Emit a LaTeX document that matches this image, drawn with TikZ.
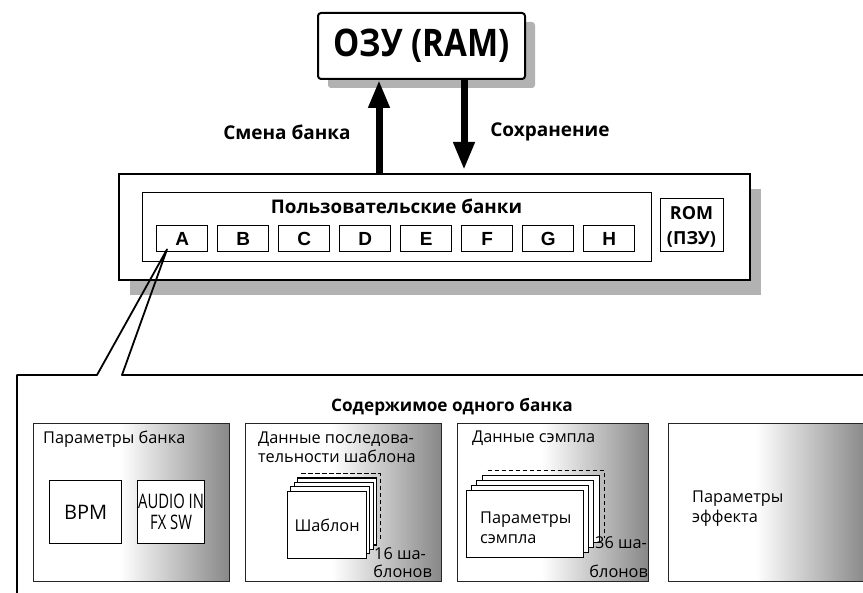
\documentclass[tikz,border=0pt]{standalone}
\usepackage{fontspec}
\setmainfont{Open Sans}
\newfontfamily\lettersfont{Liberation Sans}
\usetikzlibrary{arrows.meta,shadows}
\definecolor{shadowgray}{gray}{0.70}
\pgfdeclarehorizontalshading{boxshade}{100bp}{color(0bp)=(white); color(25bp)=(white); color(47bp)=(white); color(75bp)=(black!47); color(100bp)=(black!47)}
\tikzset{
  boxframe/.style={draw=black, line width=2pt, fill=white, inner sep=0pt},
  bankbox/.style={draw=black, line width=1.4pt, fill=white, inner sep=0pt, minimum width=51pt, minimum height=26pt, font=\lettersfont\bfseries\fontsize{19}{19}\selectfont},
  subbox/.style={draw=black!85, line width=1.2pt, shading=boxshade, inner sep=0pt, anchor=north west, minimum height=158pt},
  innerbox/.style={draw=black, line width=1.2pt, fill=white, inner sep=0pt, anchor=north west},
  page/.style={draw=black, line width=1.2pt, fill=white},
  pagedash/.style={draw=black, line width=1.3pt, dash pattern=on 4.5pt off 2.5pt},
  bigarrow/.style={line width=7pt, -{Triangle[width=20pt,length=28pt]}},
  callout/.style={draw=black, line width=1.8pt, line join=round},
  boldlbl/.style={font=\bfseries\fontsize{19}{19}\selectfont, inner sep=0pt},
  txt/.style={font=\fontsize{16.3}{16.3}\selectfont, inner sep=0pt, anchor=base west},
}
\begin{document}
\begin{tikzpicture}[x=1pt,y=-1pt]
\useasboundingbox (0,0) rectangle (863,593);
% RAM
\node[boxframe, rounded corners=3pt, minimum width=207pt, minimum height=66pt, anchor=north west,
  drop shadow={shadow xshift=10pt, shadow yshift=-9pt, fill=shadowgray, opacity=1},
  font=\bfseries\fontsize{38}{38}\selectfont] (ram) at (317,12) {\scalebox{0.87}[1]{ОЗУ (RAM)}};
% main bank memory
\node[boxframe, minimum width=631pt, minimum height=106pt, anchor=north west,
  drop shadow={shadow xshift=11pt, shadow yshift=-15pt, fill=shadowgray, opacity=1}] (main) at (118,173) {};
\node[innerbox, minimum width=509pt, minimum height=69pt] (user) at (142,192) {};
\node[boldlbl, font=\bfseries\fontsize{18.8}{18.8}\selectfont, anchor=base] (usertitle) at (396.5,214) {Пользовательские банки};
\foreach \l [count=\i from 0] in {A,B,C,D,E,F,G,H}
  \node[bankbox, anchor=north west] (\l) at (156+61*\i,225) {\l};
\node[innerbox, minimum width=63pt, minimum height=53pt] (rom) at (660,198) {};
\node[boldlbl, font=\bfseries\fontsize{18}{18}\selectfont, anchor=base] (romA) at (691.5,220) {ROM};
\node[boldlbl, font=\bfseries\fontsize{18}{18}\selectfont, anchor=base] (romB) at (691.5,245) {(ПЗУ)};
% arrows
\coordinate (upx) at (379,0);
\coordinate (dnx) at (464,0);
\draw[bigarrow] (main.north -| upx) -- (ram.south -| upx);
\draw[bigarrow] (ram.south -| dnx) -- ([yshift=3pt]main.north -| dnx);
\node[boldlbl] (change) at (287,132) {Смена банка};
\node[boldlbl] (save) at (550,132) {Сохранение};
% contents of one bank
\node[boldlbl, font=\bfseries\fontsize{17.2}{17.2}\selectfont, anchor=base] (ctitle) at (452,412) {Содержимое одного банка};
\node[subbox, minimum width=196pt] (b1) at (33,423) {};
\node[subbox, minimum width=196pt] (b2) at (245,423) {};
\node[subbox, minimum width=191pt] (b3) at (457,423) {};
\node[subbox, minimum width=198pt] (b4) at (668,423) {};
% box 1
\node[txt] (b1t) at (43,444) {Параметры банка};
\node[innerbox, minimum width=72pt, minimum height=63pt, font=\fontsize{20}{20}\selectfont] (bpm) at (49,480) {BPM};
\node[innerbox, minimum width=67pt, minimum height=63pt, align=center, font=\fontsize{20}{23}\selectfont] (afx) at (137,480) {\scalebox{0.74}[1]{AUDIO IN}\\[-2pt]\scalebox{0.74}[1]{FX SW}};
% box 2
\node[txt] (b2t1) at (258,444) {Данные последова-};
\node[txt] (b2t2) at (258,463) {тельности шаблона};
\draw[pagedash] (287+4*3.6,491-4*4.3) -- (366+4*3.6,491-4*4.3) -- (366+4*3.6,558-4*4.3);
\foreach \i in {3,2,1}
  \draw[page] (287+3.6*\i,491-4.3*\i) rectangle (366+3.6*\i,558-4.3*\i);
\node[page, inner sep=0pt, minimum width=79pt, minimum height=67pt, anchor=north west, font=\fontsize{16.3}{16.3}\selectfont] (tmpl) at (287,491) {Шаблон};
\node[txt] (n16a) at (374,560) {16 ша-};
\node[txt, anchor=base east] (n16b) at (432,578) {блонов};
% box 3
\node[txt] (b3t) at (472,443) {Данные сэмпла};
\draw[pagedash] (466+4*5.4,490-4*4.8) -- (583+4*5.4,490-4*4.8) -- (583+4*5.4,557-4*4.8);
\foreach \i in {3,2,1}
  \draw[page] (466+5.4*\i,490-4.8*\i) rectangle (583+5.4*\i,557-4.8*\i);
\node[page, inner sep=0pt, minimum width=117pt, minimum height=67pt, anchor=north west] (smp) at (466,490) {};
\node[txt] (smp1) at (480,524) {Параметры};
\node[txt] (smp2) at (480,544) {сэмпла};
\node[txt] (n36a) at (595,549) {36 ша-};
\node[txt, anchor=base east] (n36b) at (648,578) {блонов};
% box 4
\node[txt] (fx1) at (692,503) {Параметры};
\node[txt] (fx2) at (692,523) {эффекта};
% callout
\coordinate (tip) at ([xshift=11pt,yshift=3pt]A.south west);
\draw[callout] (17,594) -- (17,375) -- (97,375) -- (tip) -- (122,375) -- (864,375);
\end{tikzpicture}
\end{document}
